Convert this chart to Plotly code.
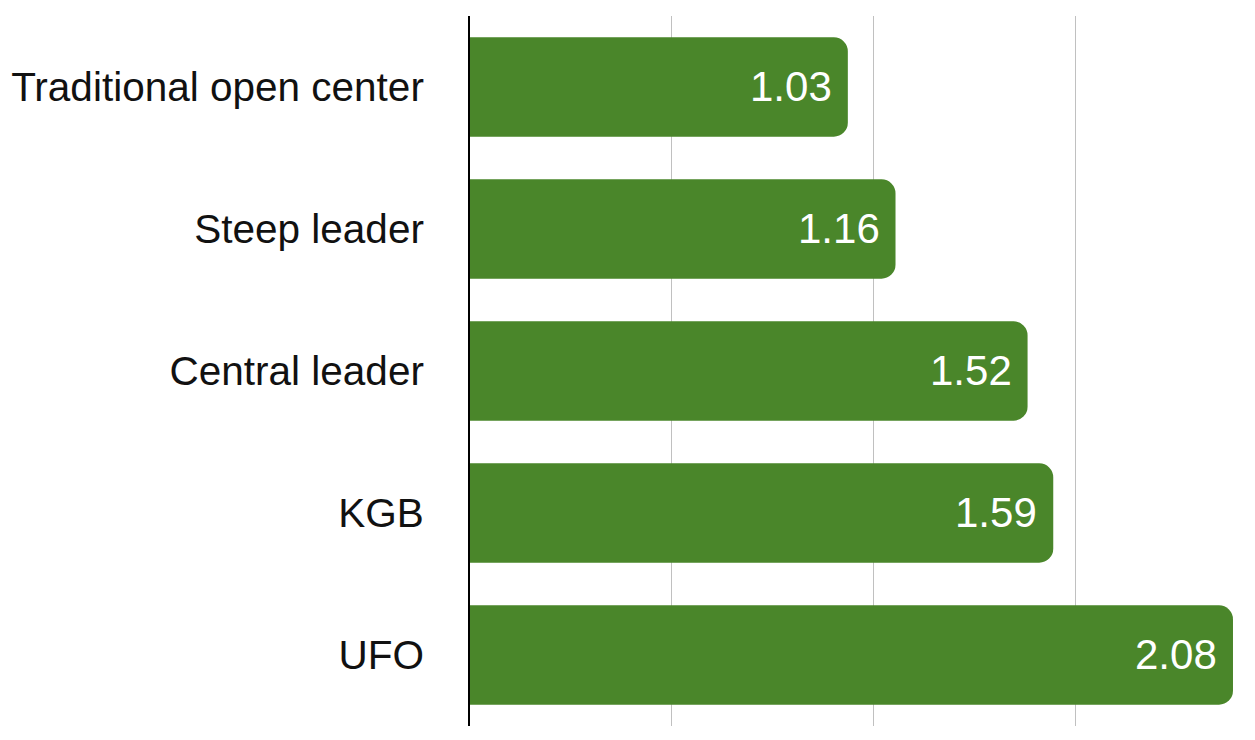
import plotly.graph_objects as go

categories = ["Traditional open center", "Steep leader", "Central leader", "KGB", "UFO"]
values = [1.03, 1.16, 1.52, 1.59, 2.08]

fig = go.Figure()
fig.add_trace(go.Bar(
    y=categories, x=values, orientation="h",
    marker=dict(color="#4a862a", line=dict(width=0), cornerradius=14),
    hoverinfo="skip",
))

for c, v in zip(categories, values):
    fig.add_annotation(x=v, y=c, text=f"{v:.2f}", showarrow=False,
                       xanchor="right", xshift=-14, yshift=1,
                       font=dict(family="Liberation Sans, Arial, sans-serif", size=42, color="white"))

fig.update_layout(
    width=1247, height=732,
    margin=dict(l=462, r=0, t=8, b=14),
    paper_bgcolor="white", plot_bgcolor="white",
    bargap=0.30,
    showlegend=False,
    font=dict(family="Liberation Sans, Arial, sans-serif", size=40.5, color="#111111"),
)
fig.update_xaxes(range=[0, 2.14], tick0=0, dtick=0.55, showticklabels=False,
                 showgrid=True, gridcolor="#c0c0c0", gridwidth=1, zeroline=False,
                 showline=False, ticks="")
fig.update_yaxes(autorange="reversed", showline=True, linecolor="#000000", linewidth=2,
                 ticks="", ticklabelstandoff=36, showgrid=False, zeroline=False)

fig.write_html("out.html")
